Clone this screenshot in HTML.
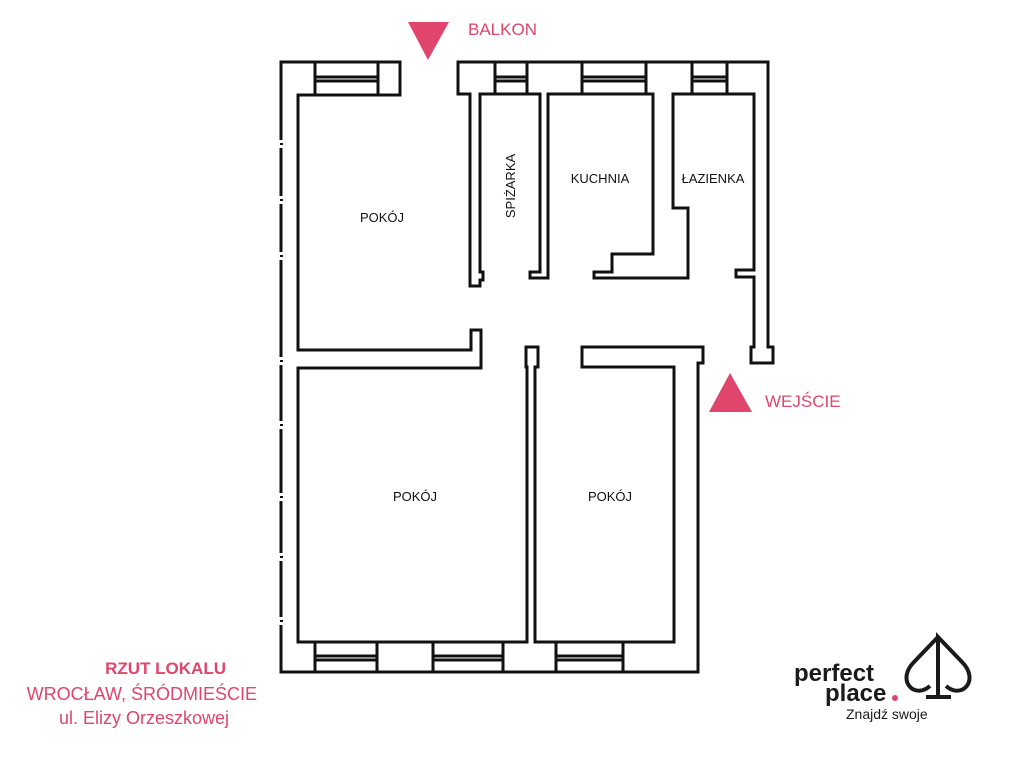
<!DOCTYPE html>
<html><head><meta charset="utf-8"><style>
body{margin:0;background:#fff;width:1021px;height:768px;overflow:hidden}
svg{display:block}
text{font-family:"Liberation Sans",sans-serif}
</style></head><body>
<svg width="1021" height="768" viewBox="0 0 1021 768">
<g fill="none" stroke="#111" stroke-width="3" stroke-linejoin="miter">
<path d="M281 672 V62 H400 V95 H298 V350 H471 V330 H481 V368 H298 V642 H527 V367 H526 V347 H538 V367 H535 V642 H674 V367 H582 V347 H703 V363 H698 V672 Z"/>
<path d="M458 62 H768 V347 H773 V363 H751 V347 H754 V277 H736 V270 H754 V94 H673 V208 H688 V278 H594 V272 H612 V254 H653 V94 H548 V278 H530 V272 H540 V94 H480 V272 H483 V280 H480 V286 H470 V94 H458 Z"/>
<path d="M315 62 V95 M378 62 V95 M315 77 H378 M315 81 H378"/>
<path d="M495 62 V94 M527 62 V94 M495 77 H527 M495 81 H527"/>
<path d="M582 62 V94 M646 62 V94 M582 77 H646 M582 81 H646"/>
<path d="M692 62 V94 M727 62 V94 M692 77 H727 M692 81 H727"/>
<path d="M315 642 V672 M377 642 V672 M315 656 H377 M315 660 H377"/>
<path d="M433 642 V672 M503 642 V672 M433 656 H503 M433 660 H503"/>
<path d="M556 642 V672 M623 642 V672 M556 656 H623 M556 660 H623"/>
</g>
<g fill="#fff">
<rect x="278" y="140" width="6" height="8"/><rect x="278" y="196" width="6" height="8"/>
<rect x="278" y="252" width="6" height="8"/><rect x="278" y="357" width="6" height="8"/>
<rect x="278" y="421" width="6" height="8"/><rect x="278" y="493" width="6" height="8"/>
<rect x="278" y="553" width="6" height="8"/><rect x="278" y="617" width="6" height="8"/>
</g>
<g fill="#111">
<rect x="280" y="143" width="3" height="2"/><rect x="280" y="199" width="3" height="2"/>
<rect x="280" y="255" width="3" height="2"/><rect x="280" y="360" width="3" height="2"/>
<rect x="280" y="424" width="3" height="2"/><rect x="280" y="496" width="3" height="2"/>
<rect x="280" y="556" width="3" height="2"/><rect x="280" y="620" width="3" height="2"/>
</g>
<polygon points="408,22 449,22 428,60" fill="#e0456b"/>
<polygon points="709,412 752,412 730,373" fill="#e0456b"/>
<text x="468" y="35" font-size="17" fill="#e0456b">BALKON</text>
<text x="765" y="407" font-size="17" fill="#e0456b">WEJŚCIE</text>
<g font-size="13" fill="#111" text-anchor="middle">
<text x="382" y="222">POKÓJ</text>
<text x="600" y="183">KUCHNIA</text>
<text x="713" y="183">ŁAZIENKA</text>
<text x="415" y="501">POKÓJ</text>
<text x="610" y="501">POKÓJ</text>
<text transform="translate(515,186) rotate(-90)">SPIŻARKA</text>
</g>
<g text-anchor="end" fill="#e0456b">
<text x="226" y="674" font-size="17" font-weight="bold">RZUT LOKALU</text>
<text x="257" y="700" font-size="18">WROCŁAW, ŚRÓDMIEŚCIE</text>
<text x="229" y="724" font-size="18">ul. Elizy Orzeszkowej</text>
</g>
<text x="794" y="681" font-size="24" font-weight="bold" fill="#1a1a1a">perfect</text>
<text x="825" y="701" font-size="24" font-weight="bold" fill="#1a1a1a">place</text>
<circle cx="895" cy="698" r="3" fill="#e0456b"/>
<text x="846" y="719" font-size="14" fill="#1a1a1a">Znajdź swoje</text>
<g fill="none" stroke="#1a1a1a" stroke-width="4">
<path d="M938 696 V637 L962 662 C980 680 962 700 946 686 M938 637 L914 662 C896 680 914 700 930 686"/>
<path d="M926 697 H951"/>
</g>
</svg>
</body></html>
